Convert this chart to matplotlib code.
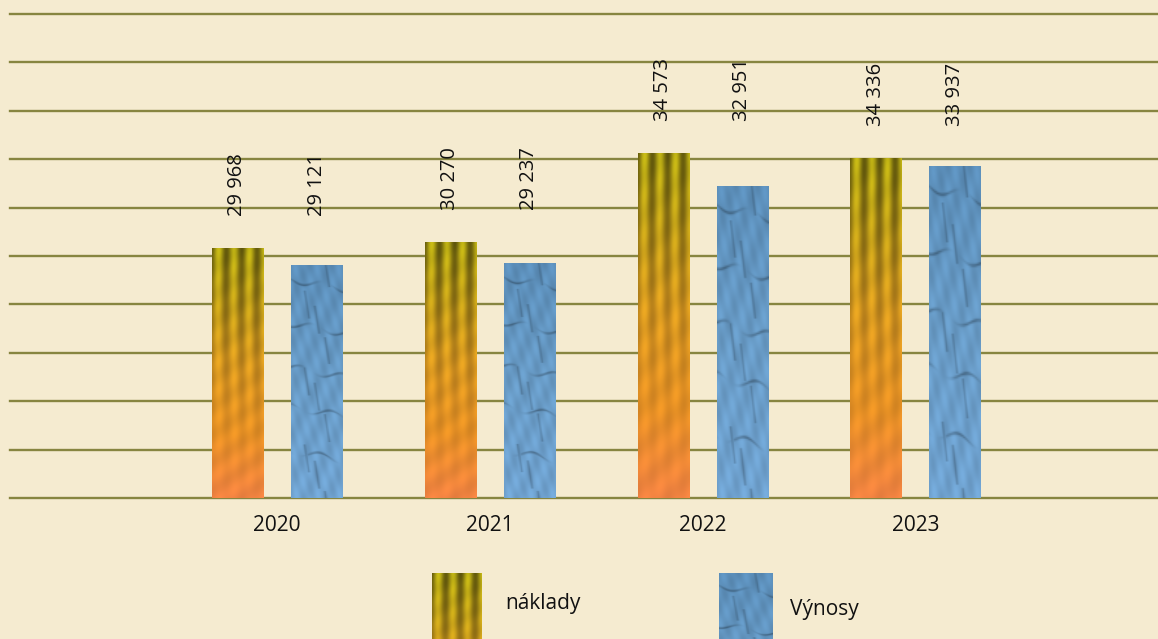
import numpy as np
import matplotlib
matplotlib.use('Agg')
import matplotlib.pyplot as plt

# Data
years = ['2020', '2021', '2022', '2023']
naklady = [29968, 30270, 34573, 34336]
vynosy = [29121, 29237, 32951, 33937]
labels_naklady = ['29 968', '30 270', '34 573', '34 336']
labels_vynosy = ['29 121', '29 237', '32 951', '33 937']

BG = '#f5ebd0'
GRID = '#878540'
plt.rcParams['font.family'] = ['Open Sans', 'DejaVu Sans']


def interp_colors(v, stops):
    pos = np.array([s[0] for s in stops])
    cols = np.array([s[1] for s in stops])
    out = np.zeros(v.shape + (3,))
    for c in range(3):
        out[..., c] = np.interp(v, pos, cols[:, c])
    return out


def gold_texture(h=200, w=40):
    v, u = np.mgrid[0:1:h * 1j, 0:1:w * 1j]
    img = interp_colors(v, [
        (0.0, (0.66, 0.60, 0.08)),
        (0.2, (0.74, 0.60, 0.10)),
        (0.45, (0.87, 0.61, 0.13)),
        (0.75, (0.93, 0.58, 0.15)),
        (1.0, (0.96, 0.52, 0.26)),
    ])
    s = 0.5 + 0.5 * np.cos(2 * np.pi * (u * 3.3 + 0.1) + 0.25 * np.sin(v * 6))
    amp = 0.40 * (1 - v) ** 1.6 + 0.03
    img = img * (1 - amp[..., None] * s[..., None])
    hi = (1 - s) * (1 - v) ** 2 * 0.22
    img[..., 0] += hi * 0.5
    img[..., 1] += hi * 0.55
    img *= (1 + 0.035 * np.sin(2 * np.pi * v * 9 + u * 8))[..., None]
    return np.clip(img, 0, 1)


def stone_texture(h=200, w=40):
    v, u = np.mgrid[0:1:h * 1j, 0:1:w * 1j]
    img = interp_colors(v, [
        (0.0, (0.36, 0.56, 0.73)),
        (0.5, (0.41, 0.61, 0.78)),
        (1.0, (0.44, 0.64, 0.82)),
    ])
    var = 0.04 * np.sin(2 * np.pi * (u * 2.3 + v * 5.1)) + 0.03 * np.sin(2 * np.pi * (u * 4.7 - v * 7.3))
    img = img * (1 + var[..., None])
    dark = np.zeros_like(v)
    for k, v0 in enumerate([0.08, 0.27, 0.46, 0.63, 0.82]):
        curve = v0 + 0.015 * np.sin(2 * np.pi * u * 1.2 + k * 1.7) + 0.04 * (u - 0.5)
        dark = np.maximum(dark, np.exp(-((v - curve) / 0.005) ** 2) * (0.5 + 0.5 * np.sin(u * 7 + k)))
    for k, u0 in enumerate([0.3, 0.7, 0.5]):
        curve = u0 + 0.25 * (((v * 3 + k * 0.4) % 1) - 0.5)
        band = (np.abs(((v * 3 + k * 0.4) % 1) - 0.5) < 0.18)
        dark = np.maximum(dark, np.exp(-((u - curve) / 0.025) ** 2) * band * 0.6)
    img = img * (1 - 0.3 * dark[..., None])
    return np.clip(img, 0, 1)


gold = gold_texture()
stone = stone_texture()

fig = plt.figure(figsize=(11.58, 6.39), dpi=100, facecolor=BG)
ax = fig.add_axes([10 / 1158, 141 / 639, 1 - 10 / 1158, 484 / 639])
ax.set_facecolor(BG)

lo, hi = 17850, 41310
x = np.arange(len(years))
off = 0.186
width = 0.24

ax.set_xlim(-1.255, 4.14)
ax.set_ylim(lo, hi)

for yv in np.linspace(lo, hi, 11):
    ax.axhline(yv, color=GRID, lw=1.7, zorder=1, clip_on=False)

for vals, tex, dx in [(naklady, gold, -off), (vynosy, stone, off)]:
    bars = ax.bar(x + dx, vals, width, bottom=0, color='none', zorder=2)
    for b, val in zip(bars, vals):
        x0 = b.get_x()
        im = ax.imshow(tex, extent=(x0, x0 + width, lo, val), aspect='auto',
                       zorder=3, interpolation='bilinear')
        im.set_clip_path(b)

for i in range(len(years)):
    top = max(naklady[i], vynosy[i]) + 1550
    ax.text(x[i] - off, top, labels_naklady[i], rotation=90, ha='center', va='bottom',
            fontsize=14.5, color='#111111')
    ax.text(x[i] + off, top, labels_vynosy[i], rotation=90, ha='center', va='bottom',
            fontsize=14.5, color='#111111')

ax.set_xticks(x)
ax.set_xticklabels(years, fontsize=15, color='#111111')
ax.tick_params(axis='x', length=0, pad=12)
ax.set_yticks([])
for sp in ax.spines.values():
    sp.set_visible(False)

# legend swatches show the upper part of the texture
sw1 = fig.add_axes([432 / 1158, -0.22, 50 / 1158, 0.323])
sw1.imshow(gold, aspect='auto', interpolation='bilinear')
sw1.axis('off')
sw2 = fig.add_axes([719 / 1158, -0.22, 53 / 1158, 0.323])
sw2.imshow(stone, aspect='auto', interpolation='bilinear')
sw2.axis('off')
fig.text(505 / 1158, 35 / 639, 'náklady', fontsize=15, va='center', ha='left', color='#111111')
fig.text(790 / 1158, 29 / 639, 'Výnosy', fontsize=15, va='center', ha='left', color='#111111')

fig.savefig('out.png', dpi=100, facecolor=BG)
